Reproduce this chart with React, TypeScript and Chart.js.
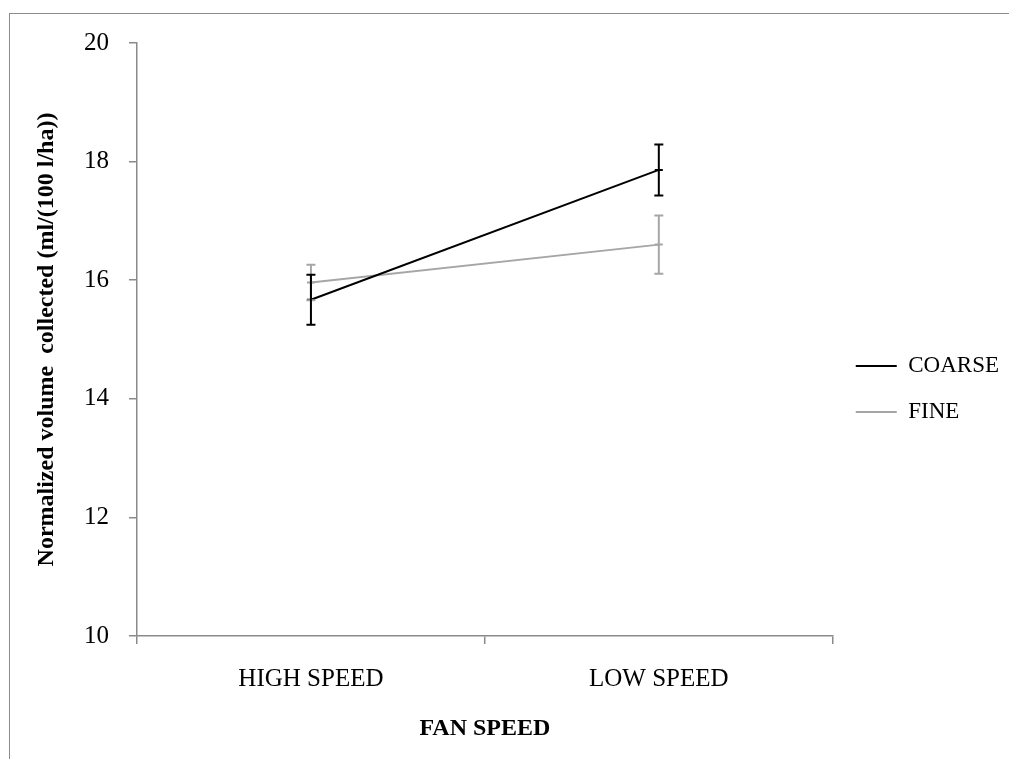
import React, { useEffect, useRef } from 'react';
import { Chart, registerables } from 'chart.js';

Chart.register(...registerables);

const categories = ['HIGH SPEED', 'LOW SPEED'];
const seriesNames = ['COARSE', 'FINE'];
const coarseMean = [15.67, 17.86];
const coarseErr = [0.42, 0.43];
const fineMean = [15.96, 16.6];
const fineErr = [0.3, 0.49];
const yTicks = [10, 12, 14, 16, 18, 20];

const SERIF = "'Liberation Serif', 'Times New Roman', serif";
const AXIS = '#8a8a8a';
const BLACK = '#000000';
const GRAY = '#a6a6a6';

const errorBarsPlugin = {
  id: 'errorBars',
  afterDatasetsDraw(chart: any) {
    const { ctx, scales } = chart;
    const xs = scales.x;
    const ys = scales.y;
    const n = chart.data.datasets.length;
    for (let d = n - 1; d >= 0; d--) {
      const ds: any = chart.data.datasets[d];
      const errs: number[] = ds.errors || [];
      ctx.save();
      ctx.strokeStyle = ds.borderColor;
      ctx.lineWidth = 2;
      ds.data.forEach((v: number, i: number) => {
        const e = errs[i];
        if (e == null) return;
        const x = xs.getPixelForValue(i);
        const yt = ys.getPixelForValue(v + e);
        const yb = ys.getPixelForValue(v - e);
        const cap = 4.5;
        ctx.beginPath();
        ctx.moveTo(x, yt);
        ctx.lineTo(x, yb);
        ctx.moveTo(x - cap, yt);
        ctx.lineTo(x + cap, yt);
        ctx.moveTo(x - cap, yb);
        ctx.lineTo(x + cap, yb);
        ctx.stroke();
      });
      ctx.restore();
    }
  },
};

export default function App() {
  const ref = useRef<HTMLCanvasElement>(null);

  useEffect(() => {
    document.documentElement.style.overflow = 'hidden';
    document.body.style.overflow = 'hidden';
    const canvas = ref.current;
    if (!canvas) return;
    const chart = new Chart(canvas, {
      type: 'line',
      data: {
        labels: categories,
        datasets: [
          {
            label: seriesNames[0],
            data: coarseMean,
            errors: coarseErr,
            borderColor: BLACK,
            backgroundColor: BLACK,
            borderWidth: 2,
            pointStyle: 'line',
            pointRadius: 4,
            pointBorderWidth: 2,
            pointBorderColor: BLACK,
            tension: 0,
          } as any,
          {
            label: seriesNames[1],
            data: fineMean,
            errors: fineErr,
            borderColor: GRAY,
            backgroundColor: GRAY,
            borderWidth: 2,
            pointStyle: 'line',
            pointRadius: 4,
            pointBorderWidth: 2,
            pointBorderColor: GRAY,
            tension: 0,
          } as any,
        ],
      },
      options: {
        responsive: false,
        animation: false,
        devicePixelRatio: 1,
        layout: { padding: { top: 11, left: 0, right: 0, bottom: 0 } },
        plugins: {
          title: {
            display: true,
            text: '',
            font: { size: 10 },
            padding: { top: 11, bottom: 0 },
          },
          tooltip: { enabled: false },
          legend: {
            position: 'right',
            align: 'center',
            labels: {
              boxWidth: 41,
              boxHeight: 2,
              padding: 23,
              color: '#000',
              font: { family: SERIF, size: 23 },
              generateLabels: (c: any) =>
                (Chart.defaults.plugins.legend.labels as any)
                  .generateLabels(c)
                  .map((l: any) => ({ ...l, lineWidth: 0 })),
            },
          },
        },
        scales: {
          x: {
            type: 'category',
            offset: true,
            grid: {
              offset: true,
              drawOnChartArea: false,
              drawTicks: true,
              tickLength: 8,
              color: AXIS,
              lineWidth: 1.5,
            },
            border: { color: AXIS, width: 1.5 },
            ticks: {
              color: '#000',
              font: { family: SERIF, size: 25 },
              padding: 20,
              maxRotation: 0,
            },
            title: {
              display: true,
              text: 'FAN SPEED',
              color: '#000',
              font: { family: SERIF, size: 24, weight: 'bold' },
              padding: { top: 0, bottom: 16 },
            },
            afterFit: (s: any) => {
              s.height = 123;
            },
          },
          y: {
            min: 10,
            max: 20,
            afterBuildTicks: (s: any) => {
              s.ticks = yTicks.map((v) => ({ value: v }));
            },
            grid: {
              drawOnChartArea: false,
              drawTicks: true,
              tickLength: 8,
              color: AXIS,
              lineWidth: 1.5,
            },
            border: { color: AXIS, width: 1.5 },
            ticks: {
              color: '#000',
              font: { family: SERIF, size: 25 },
              padding: 20,
            },
            title: {
              display: true,
              text: 'Normalized volume  collected (ml/(100 l/ha))',
              color: '#000',
              font: { family: SERIF, size: 24, weight: 'bold' },
              padding: { top: 24, bottom: 0 },
            },
            afterFit: (s: any) => {
              s.width = 129;
            },
          },
        },
      } as any,
      plugins: [errorBarsPlugin],
    });
    return () => chart.destroy();
  }, []);

  return (
    <div style={{ position: 'relative', width: 1001, height: 751 }}>
      <div
        style={{
          position: 'fixed',
          left: 9,
          top: 13,
          width: 1100,
          height: 900,
          border: '1px solid #8c8c8c',
        }}
      />
      <canvas
        ref={ref}
        width={1001}
        height={751}
        style={{ position: 'absolute', left: 0, top: 0, width: 1001, height: 751 }}
      />
    </div>
  );
}
